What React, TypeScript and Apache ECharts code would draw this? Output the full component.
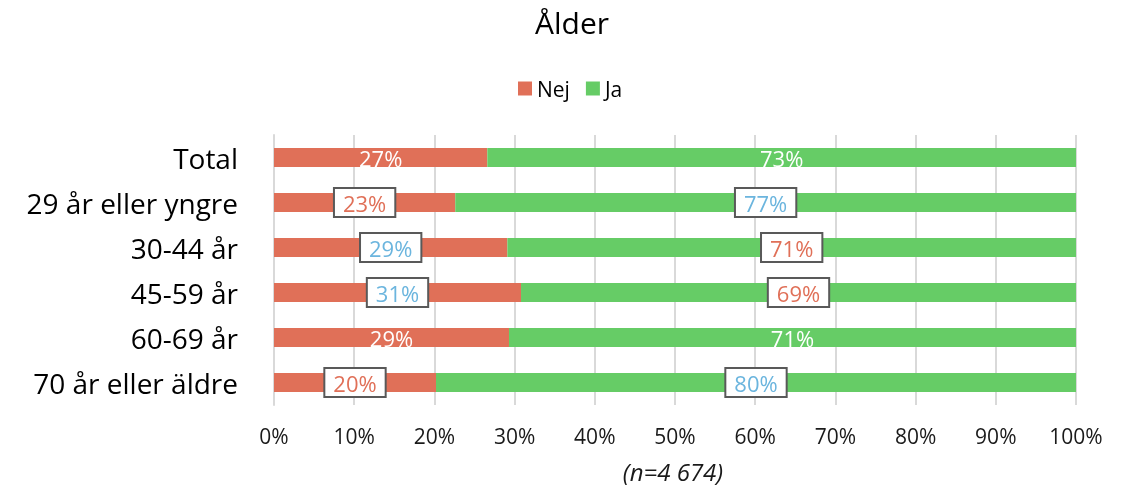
import React, { useEffect, useRef } from "react";
import * as echarts from "echarts";

const categories = ["Total", "29 år eller yngre", "30-44 år", "45-59 år", "60-69 år", "70 år eller äldre"];
const nejValues = [26.6, 22.6, 29.1, 30.8, 29.3, 20.2];
const jaValues = [73.4, 77.4, 70.9, 69.2, 70.7, 79.8];
const nejLabelText = ["27%", "23%", "29%", "31%", "29%", "20%"];
const jaLabelText = ["73%", "77%", "71%", "69%", "71%", "80%"];
// label look per bar: plain (white text) or boxed with red/blue text
const nejLabelKind = ["plain", "red", "blue", "blue", "plain", "red"];
const jaLabelKind = ["plain", "blue", "red", "red", "plain", "blue"];
const xTicks = [0, 10, 20, 30, 40, 50, 60, 70, 80, 90, 100];

const RED = "#E07058";
const GREEN = "#66CC66";
const BLUE = "#6BB5DE";
const FONT = "'Open Sans', 'Noto Sans', sans-serif";

function labelFor(kind: string, text: string) {
  if (kind === "plain") {
    return { show: true, position: "inside", formatter: text, color: "#fff", fontSize: 22, fontFamily: FONT };
  }
  return {
    show: true,
    position: "inside",
    formatter: text,
    color: kind === "red" ? RED : BLUE,
    fontSize: 22,
    fontFamily: FONT,
    lineHeight: 23,
    backgroundColor: "#fff",
    borderColor: "#595959",
    borderWidth: 2,
    padding: [3, 8, 1, 8],
  };
}

export default function App() {
  const ref = useRef<HTMLDivElement>(null);
  useEffect(() => {
    if (!ref.current) return;
    const chart = echarts.init(ref.current, null, { renderer: "svg" });
    chart.setOption({
      animation: false,
      textStyle: { fontFamily: FONT },
      title: {
        text: "Ålder",
        left: 567,
        textAlign: "center",
        top: 2,
        textStyle: { fontSize: 30, fontWeight: "normal", color: "#000", fontFamily: FONT },
      },
      legend: {
        left: 513,
        top: 73,
        itemWidth: 14,
        itemHeight: 14,
        itemGap: 16,
        icon: "rect",
        textStyle: { fontSize: 21, color: "#000", fontFamily: FONT },
        data: ["Nej", "Ja"],
      },
      grid: { left: 274, right: 51, top: 135, height: 270, containLabel: false },
      xAxis: {
        type: "value",
        min: 0,
        max: 100,
        interval: 10,
        axisLabel: {
          formatter: (v: number) => (xTicks.includes(v) ? v + "%" : ""),
          fontSize: 21,
          color: "#1a1a1a",
          margin: 20,
          fontFamily: FONT,
        },
        axisLine: { show: false },
        axisTick: { show: false },
        splitLine: { lineStyle: { color: "#d9d9d9", width: 2 } },
      },
      yAxis: {
        type: "category",
        inverse: true,
        data: categories,
        axisLine: { lineStyle: { color: "#d9d9d9", width: 2 } },
        axisTick: { length: 8, lineStyle: { color: "#d9d9d9", width: 2 } },
        axisLabel: { fontSize: 28, color: "#000", margin: 36, fontFamily: FONT },
      },
      series: [
        {
          name: "Nej",
          type: "bar",
          stack: "s",
          barWidth: 19,
          itemStyle: { color: RED },
          data: nejValues.map((v, i) => ({ value: v, label: labelFor(nejLabelKind[i], nejLabelText[i]) })),
        },
        {
          name: "Ja",
          type: "bar",
          stack: "s",
          barWidth: 19,
          itemStyle: { color: GREEN },
          data: jaValues.map((v, i) => ({ value: v, label: labelFor(jaLabelKind[i], jaLabelText[i]) })),
        },
      ],
      graphic: [
        {
          type: "text",
          x: 673,
          y: 471,
          style: {
            text: "(n=4 674)",
            fontSize: 24,
            fontStyle: "italic",
            fill: "#1a1a1a",
            fontFamily: FONT,
            textAlign: "center",
            textVerticalAlign: "middle",
          },
        },
      ],
    });
    return () => chart.dispose();
  }, []);
  return <div ref={ref} style={{ position: "fixed", left: 0, top: 0, width: 1127, height: 487 }} />;
}
